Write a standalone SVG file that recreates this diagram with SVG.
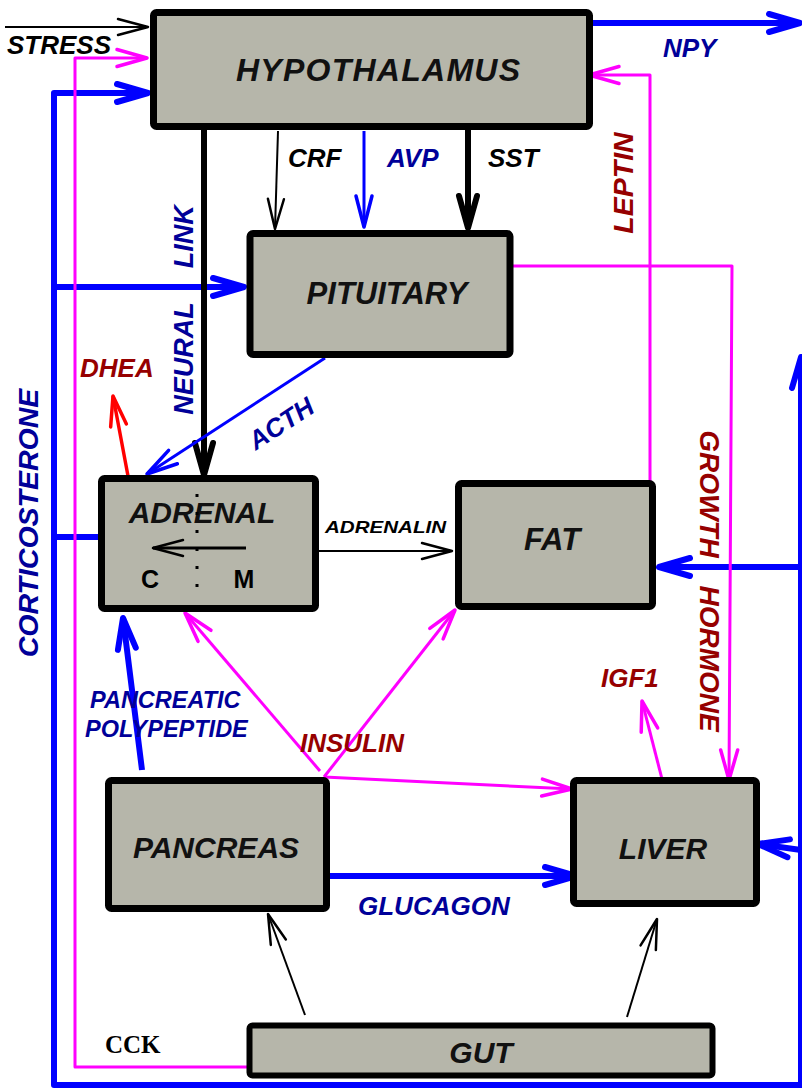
<svg xmlns="http://www.w3.org/2000/svg" width="802" height="1090" viewBox="0 0 802 1090">
<style>
text{font-family:"Liberation Sans",Arial,sans-serif;font-weight:bold;font-style:italic}
.box{fill:#b6b6aa;stroke:#000;stroke-width:7;stroke-linejoin:round}
.bt{font-size:30px;fill:#111;text-anchor:middle}
.lb{font-size:26px}
.blk{fill:#000}
.dblu{fill:#000099}
.dred{fill:#960000}
.l{fill:none;stroke-linejoin:round}
.k1{stroke:#000;stroke-width:2}
.k6{stroke:#000;stroke-width:6}
.b6{stroke:#0000ff;stroke-width:6}
.b3{stroke:#0000ff;stroke-width:3}
.p3{stroke:#ff00ff;stroke-width:3}
.r3{stroke:#ff0000;stroke-width:3.5}
</style>
<defs>
<marker id="mk" markerUnits="userSpaceOnUse" viewBox="-40 -20 50 40" markerWidth="50" markerHeight="40" refX="0" refY="0" orient="auto" overflow="visible"><path d="M-30,-8 L0,0 L-30,8" fill="none" stroke="#000" stroke-width="2.5" stroke-linejoin="round" stroke-linecap="round"/></marker>
<marker id="mkt" markerUnits="userSpaceOnUse" viewBox="-40 -20 50 40" markerWidth="50" markerHeight="40" refX="0" refY="0" orient="auto" overflow="visible"><path d="M-32,-9 L0,0 L-32,9" fill="none" stroke="#000" stroke-width="6" stroke-linejoin="round" stroke-linecap="round"/></marker>
<marker id="mb" markerUnits="userSpaceOnUse" viewBox="-40 -20 50 40" markerWidth="50" markerHeight="40" refX="0" refY="0" orient="auto" overflow="visible"><path d="M-31,-9 L0,0 L-31,9" fill="none" stroke="#0000ff" stroke-width="6" stroke-linejoin="round" stroke-linecap="round"/></marker>
<marker id="mbt" markerUnits="userSpaceOnUse" viewBox="-40 -20 50 40" markerWidth="50" markerHeight="40" refX="0" refY="0" orient="auto" overflow="visible"><path d="M-31,-8 L0,0 L-31,8" fill="none" stroke="#0000ff" stroke-width="3.5" stroke-linejoin="round" stroke-linecap="round"/></marker>
<marker id="mp" markerUnits="userSpaceOnUse" viewBox="-40 -20 50 40" markerWidth="50" markerHeight="40" refX="0" refY="0" orient="auto" overflow="visible"><path d="M-30,-8.5 L0,0 L-30,8.5" fill="none" stroke="#ff00ff" stroke-width="3.5" stroke-linejoin="round" stroke-linecap="round"/></marker>
<marker id="mr" markerUnits="userSpaceOnUse" viewBox="-40 -20 50 40" markerWidth="50" markerHeight="40" refX="0" refY="0" orient="auto" overflow="visible"><path d="M-30,-8 L0,0 L-30,8" fill="none" stroke="#ff0000" stroke-width="3.5" stroke-linejoin="round" stroke-linecap="round"/></marker>
</defs>
<rect width="802" height="1090" fill="#fff"/>

<g id="connectors">
<!-- blue corticosterone loop -->
<path class="l b6" d="M99,537 L54,537"/>
<path class="l b6" d="M148,93 L54,93 L54,1085 L801,1085 L801,357" marker-end="url(#mb)"/>
<path class="l b6" d="M54,93 L148,93" marker-end="url(#mb)"/>
<path class="l b6" d="M54,287 L244,287" marker-end="url(#mb)"/>
<path class="l b6" d="M801,567 L659,567" marker-end="url(#mb)"/>
<path class="l b6" d="M801,850 L758,844" marker-end="url(#mb)"/>
<!-- NPY -->
<path class="l b6" d="M590,23 L800,23" marker-end="url(#mb)"/>
<!-- pink CCK from gut -->
<path class="l p3" d="M248,1067 L75,1067 L75,58 L147,58" marker-end="url(#mp)"/>
<!-- leptin -->
<path class="l p3" d="M650,481 L650,75 L589,75" marker-end="url(#mp)"/>
<!-- growth hormone -->
<path class="l p3" d="M512,266 L732,266 L729,780" marker-end="url(#mp)"/>
<!-- stress -->
<path class="l k1" d="M5,27 L148,27" marker-end="url(#mk)"/>
<!-- CRF AVP SST -->
<path class="l k1" d="M278,131 L275,229" marker-end="url(#mk)"/>
<path class="l b3" d="M364,131 L364,227" marker-end="url(#mbt)"/>
<path class="l k6" d="M468,130 L468,228" marker-end="url(#mkt)"/>
<!-- neural link -->
<path class="l k6" d="M204,129 L204,475" marker-end="url(#mkt)"/>
<!-- ACTH -->
<path class="l b3" d="M325,358 L147,474" marker-end="url(#mbt)"/>
<!-- DHEA -->
<path class="l r3" d="M128,476 L113,396" marker-end="url(#mr)"/>
<!-- adrenalin -->
<path class="l k1" d="M318,551 L452,551" marker-end="url(#mk)"/>
<!-- pancreatic polypeptide -->
<path class="l b6" d="M142,770 L123,618" marker-end="url(#mb)"/>
<!-- insulin -->
<path class="l p3" d="M320,771 L185,613" marker-end="url(#mp)"/>
<path class="l p3" d="M324,777 L455,610" marker-end="url(#mp)"/>
<path class="l p3" d="M324,777 L572,789" marker-end="url(#mp)"/>
<!-- glucagon -->
<path class="l b6" d="M327,876 L576,876" marker-end="url(#mb)"/>
<!-- IGF1 -->
<path class="l p3" d="M662,779 L642,701" marker-end="url(#mp)"/>
<!-- gut -->
<path class="l k1" d="M305,1015 L268,914" marker-end="url(#mk)"/>
<path class="l k1" d="M627,1017 L657,919" marker-end="url(#mk)"/>
</g>

<g id="hypothalamus">
<rect class="box" x="153.5" y="12.5" width="436" height="114" rx="3"/>
<text class="bt" x="378" y="81" textLength="284" lengthAdjust="spacing" style="font-size:32px">HYPOTHALAMUS</text>
</g>
<g id="pituitary">
<rect class="box" x="250" y="233.5" width="260" height="121" rx="3"/>
<text class="bt" x="387" y="304" style="font-size:31px">PITUITARY</text>
</g>
<g id="adrenal">
<rect class="box" x="101.5" y="478.5" width="214" height="130" rx="3"/>
<text class="bt" x="202" y="523">ADRENAL</text>
<line x1="197" y1="494" x2="197" y2="592" stroke="#000" stroke-width="3" stroke-dasharray="3 15"/>
<path class="l" d="M246,548 L153,548" stroke="#000" stroke-width="3" marker-end="url(#mk)"/>
<text x="150" y="588" style="font-style:normal;font-size:25px;text-anchor:middle">C</text>
<text x="244" y="588" style="font-style:normal;font-size:25px;text-anchor:middle">M</text>
</g>
<g id="fat">
<rect class="box" x="458.5" y="483.5" width="194" height="123" rx="3"/>
<text class="bt" x="552" y="550" style="font-size:31px">FAT</text>
</g>
<g id="pancreas">
<rect class="box" x="108.5" y="780.5" width="218" height="128" rx="3"/>
<text class="bt" x="216" y="858">PANCREAS</text>
</g>
<g id="liver">
<rect class="box" x="573.5" y="780.5" width="183" height="123" rx="3"/>
<text class="bt" x="663" y="859">LIVER</text>
</g>
<g id="gut">
<rect class="box" x="249.5" y="1025.5" width="463" height="50" rx="3" style="stroke-width:6"/>
<text class="bt" x="481" y="1063">GUT</text>
</g>

<g id="labels">
<text class="lb blk" x="7" y="54">STRESS</text>
<text class="lb dblu" x="663" y="57">NPY</text>
<text class="lb blk" x="288" y="167">CRF</text>
<text class="lb dblu" x="387" y="167">AVP</text>
<text class="lb blk" x="488" y="167">SST</text>
<text class="lb dred" x="80" y="377">DHEA</text>
<text class="lb dblu" transform="translate(286,431) rotate(-33)" text-anchor="middle">ACTH</text>
<text class="blk" x="325" y="533" style="font-size:17px" textLength="121" lengthAdjust="spacingAndGlyphs">ADRENALIN</text>
<text class="dblu" x="90" y="708" style="font-size:23.5px">PANCREATIC</text>
<text class="dblu" x="85" y="737" style="font-size:23.5px">POLYPEPTIDE</text>
<text class="lb dred" x="300" y="752">INSULIN</text>
<text class="lb dblu" x="358" y="915">GLUCAGON</text>
<text class="lb dred" x="601" y="687">IGF1</text>
<text x="105" y="1053" style="font-family:'Liberation Serif','Times New Roman',serif;font-style:normal;font-size:25px">CCK</text>
<text class="dblu" transform="translate(38,523) rotate(-90)" text-anchor="middle" style="font-size:28.5px">CORTICOSTERONE</text>
<text class="dblu" transform="translate(193,310) rotate(-90)" text-anchor="middle" word-spacing="27" style="font-size:27px">NEURAL LINK</text>
<text class="dred" transform="translate(633,183) rotate(-90)" text-anchor="middle" style="font-size:28.5px">LEPTIN</text>
<text class="dred" transform="translate(700,581) rotate(90)" text-anchor="middle" word-spacing="20" style="font-size:28px">GROWTH HORMONE</text>
</g>
</svg>
